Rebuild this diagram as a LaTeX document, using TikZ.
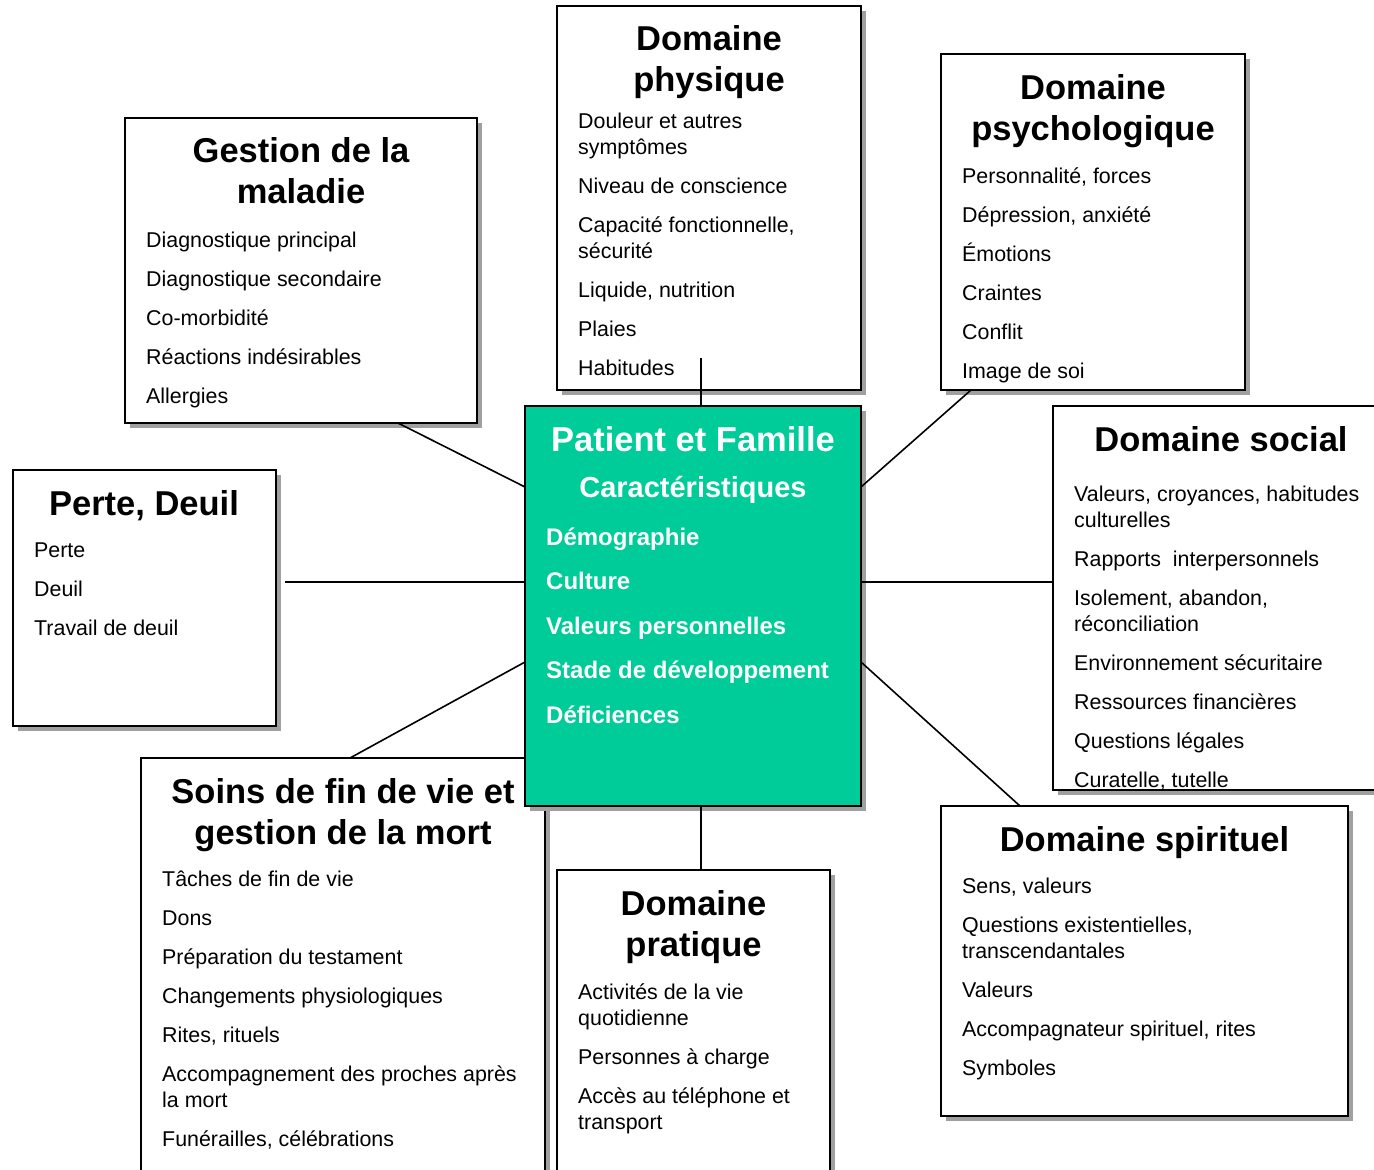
\documentclass[tikz,border=0pt]{standalone}
\usepackage{fontspec}
\setmainfont{Liberation Sans}
\usetikzlibrary{shadows}
\definecolor{pfteal}{HTML}{00CC99}
\definecolor{shadowgray}{HTML}{A0A0A0}
\begin{document}
\begin{tikzpicture}[x=1pt,y=-1pt,
  box/.style={draw=black, line width=2.5pt, fill=white, anchor=north west,
    inner sep=0pt, outer sep=0pt,
    drop shadow={shadow xshift=5pt, shadow yshift=-5pt, fill=shadowgray, opacity=1}},
  ttl/.style={anchor=north, inner sep=0pt, align=center,
    font=\bfseries\fontsize{34.5}{41.5}\selectfont},
  itm/.style={anchor=north west, inner sep=0pt, align=left,
    font=\fontsize{21.4}{26}\selectfont},
  link/.style={draw=black, line width=1.6pt}]
\useasboundingbox (0,0) rectangle (1374,1170);

% frames
\node[box, minimum width=352pt, minimum height=305pt] (gestion) at (125,118) {};
\node[box, minimum width=304pt, minimum height=384pt] (physique) at (557,6) {};
\node[box, minimum width=304pt, minimum height=336pt] (psycho) at (941,54) {};
\node[box, minimum width=340pt, minimum height=384pt] (social) at (1053,406) {};
\node[box, minimum width=263pt, minimum height=256pt] (perte) at (13,470) {};
\node[box, minimum width=404pt, minimum height=440pt] (soins) at (141,758) {};
\node[box, minimum width=273pt, minimum height=330pt] (pratique) at (557,870) {};
\node[box, minimum width=407pt, minimum height=310pt] (spirit) at (941,806) {};
\node[box, fill=pfteal, minimum width=336pt, minimum height=400pt] (center) at (525,406) {};

% connector end points on the frames
\coordinate (gA) at (398,423);   \coordinate (gB) at (525,487);
\coordinate (phA) at (701,358);  \coordinate (phB) at (701,406);
\coordinate (psA) at (971,390);  \coordinate (psB) at (861,487);
\coordinate (soA) at (1053,582); \coordinate (soB) at (861,582);
\coordinate (peA) at (285,582);  \coordinate (peB) at (525,582);
\coordinate (fvA) at (350,758);  \coordinate (fvB) at (525,662);
\coordinate (prA) at (701,870);  \coordinate (prB) at (701,806);
\coordinate (spA) at (1020,806); \coordinate (spB) at (861,662);

\draw[link] (gA) -- (gB);
\draw[link] (phA) -- (phB);
\draw[link] (psA) -- (psB);
\draw[link] (soA) -- (soB);
\draw[link] (peA) -- (peB);
\draw[link] (fvA) -- (fvB);
\draw[link] (prA) -- (prB);
\draw[link] (spA) -- (spB);

% Gestion de la maladie
\node[ttl] (gestionT) at (301,132) {\rule{0pt}{30pt}Gestion de la\\maladie};
\node[itm] (gestionL) at (146,227) {\rule{0pt}{20pt}Diagnostique principal\\[13pt]
  Diagnostique secondaire\\[13pt]Co-morbidité\\[13pt]Réactions indésirables\\[13pt]Allergies};

% Domaine physique
\node[ttl] (physiqueT) at (709,20) {\rule{0pt}{30pt}Domaine\\physique};
\node[itm] (physiqueL) at (578,108) {\rule{0pt}{20pt}Douleur et autres\\symptômes\\[13pt]
  Niveau de conscience\\[13pt]Capacité fonctionnelle,\\sécurité\\[13pt]
  Liquide, nutrition\\[13pt]Plaies\\[13pt]Habitudes};

% Domaine psychologique
\node[ttl] (psychoT) at (1093,69) {\rule{0pt}{30pt}Domaine\\psychologique};
\node[itm] (psychoL) at (962,163) {\rule{0pt}{20pt}Personnalité, forces\\[13pt]
  Dépression, anxiété\\[13pt]Émotions\\[13pt]Craintes\\[13pt]Conflit\\[13pt]Image de soi};

% Domaine social
\node[ttl] (socialT) at (1221,421) {\rule{0pt}{30pt}Domaine social};
\node[itm] (socialL) at (1074,481) {\rule{0pt}{20pt}Valeurs, croyances, habitudes\\culturelles\\[13pt]
  Rapports\ \ interpersonnels\\[13pt]Isolement, abandon,\\réconciliation\\[13pt]
  Environnement sécuritaire\\[13pt]Ressources financières\\[13pt]
  Questions légales\\[13pt]Curatelle, tutelle};

% Perte, Deuil
\node[ttl] (perteT) at (144,485) {\rule{0pt}{30pt}Perte, Deuil};
\node[itm] (perteL) at (34,537) {\rule{0pt}{20pt}Perte\\[13pt]Deuil\\[13pt]Travail de deuil};

% Soins de fin de vie
\node[ttl] (soinsT) at (343,773) {\rule{0pt}{30pt}Soins de fin de vie et\\gestion de la mort};
\node[itm] (soinsL) at (162,866) {\rule{0pt}{20pt}Tâches de fin de vie\\[13pt]Dons\\[13pt]
  Préparation du testament\\[13pt]Changements physiologiques\\[13pt]Rites, rituels\\[13pt]
  Accompagnement des proches après\\la mort\\[13pt]Funérailles, célébrations};

% Domaine pratique
\node[ttl] (pratiqueT) at (693.5,885) {\rule{0pt}{30pt}Domaine\\pratique};
\node[itm] (pratiqueL) at (578,979) {\rule{0pt}{20pt}Activités de la vie\\quotidienne\\[13pt]
  Personnes à charge\\[13pt]Accès au téléphone et\\transport};

% Domaine spirituel
\node[ttl] (spiritT) at (1144.5,821) {\rule{0pt}{30pt}Domaine spirituel};
\node[itm] (spiritL) at (962,873) {\rule{0pt}{20pt}Sens, valeurs\\[13pt]
  Questions existentielles,\\transcendantales\\[13pt]Valeurs\\[13pt]
  Accompagnateur spirituel, rites\\[13pt]Symboles};

% Patient et Famille
\node[anchor=base, inner sep=0pt, text=white, font=\bfseries\fontsize{34.5}{41}\selectfont]
  (centerT) at (693,451) {Patient et Famille};
\node[anchor=base, inner sep=0pt, text=white, font=\bfseries\fontsize{29}{35}\selectfont]
  (centerS) at (693,497) {Caractéristiques};
\node[anchor=north west, inner sep=0pt, align=left, text=white,
  font=\bfseries\fontsize{24}{44.5}\selectfont] (centerL) at (546,523)
  {\rule{0pt}{22pt}Démographie\\Culture\\Valeurs personnelles\\Stade de développement\\Déficiences};
\end{tikzpicture}
\end{document}
